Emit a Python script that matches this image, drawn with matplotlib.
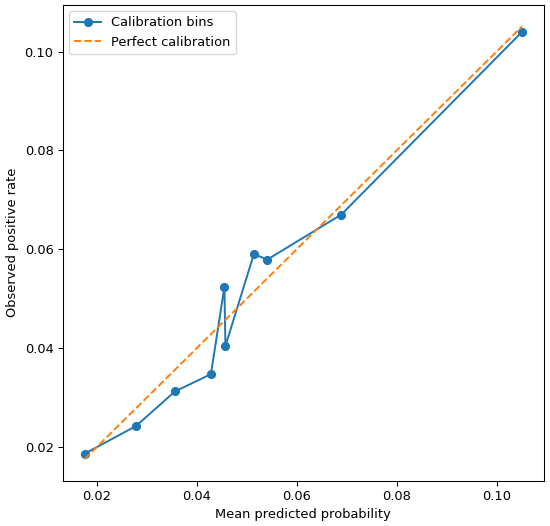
import matplotlib
matplotlib.use('Agg')
import matplotlib.pyplot as plt

# calibration bins
mean_pred = [0.0175, 0.0278, 0.0356, 0.0428, 0.0455, 0.0457, 0.0514, 0.0541, 0.0689, 0.1051]
obs_rate = [0.0186, 0.0242, 0.0312, 0.0347, 0.0524, 0.0404, 0.0590, 0.0579, 0.0670, 0.1040]

lo = min(mean_pred)
hi = max(mean_pred)

dpi = 94
fig, ax = plt.subplots(figsize=(550 / dpi, 526 / dpi), dpi=dpi)
ax.plot(mean_pred, obs_rate, marker='o', label='Calibration bins')
ax.plot([lo, hi], [lo, hi], linestyle='--', label='Perfect calibration')
ax.set_xlabel('Mean predicted probability')
ax.set_ylabel('Observed positive rate')
ax.legend(loc='upper left')

fig.subplots_adjust(left=0.114, right=0.989, bottom=0.086, top=0.991)
fig.savefig('out.png', dpi=dpi)
plt.close(fig)
